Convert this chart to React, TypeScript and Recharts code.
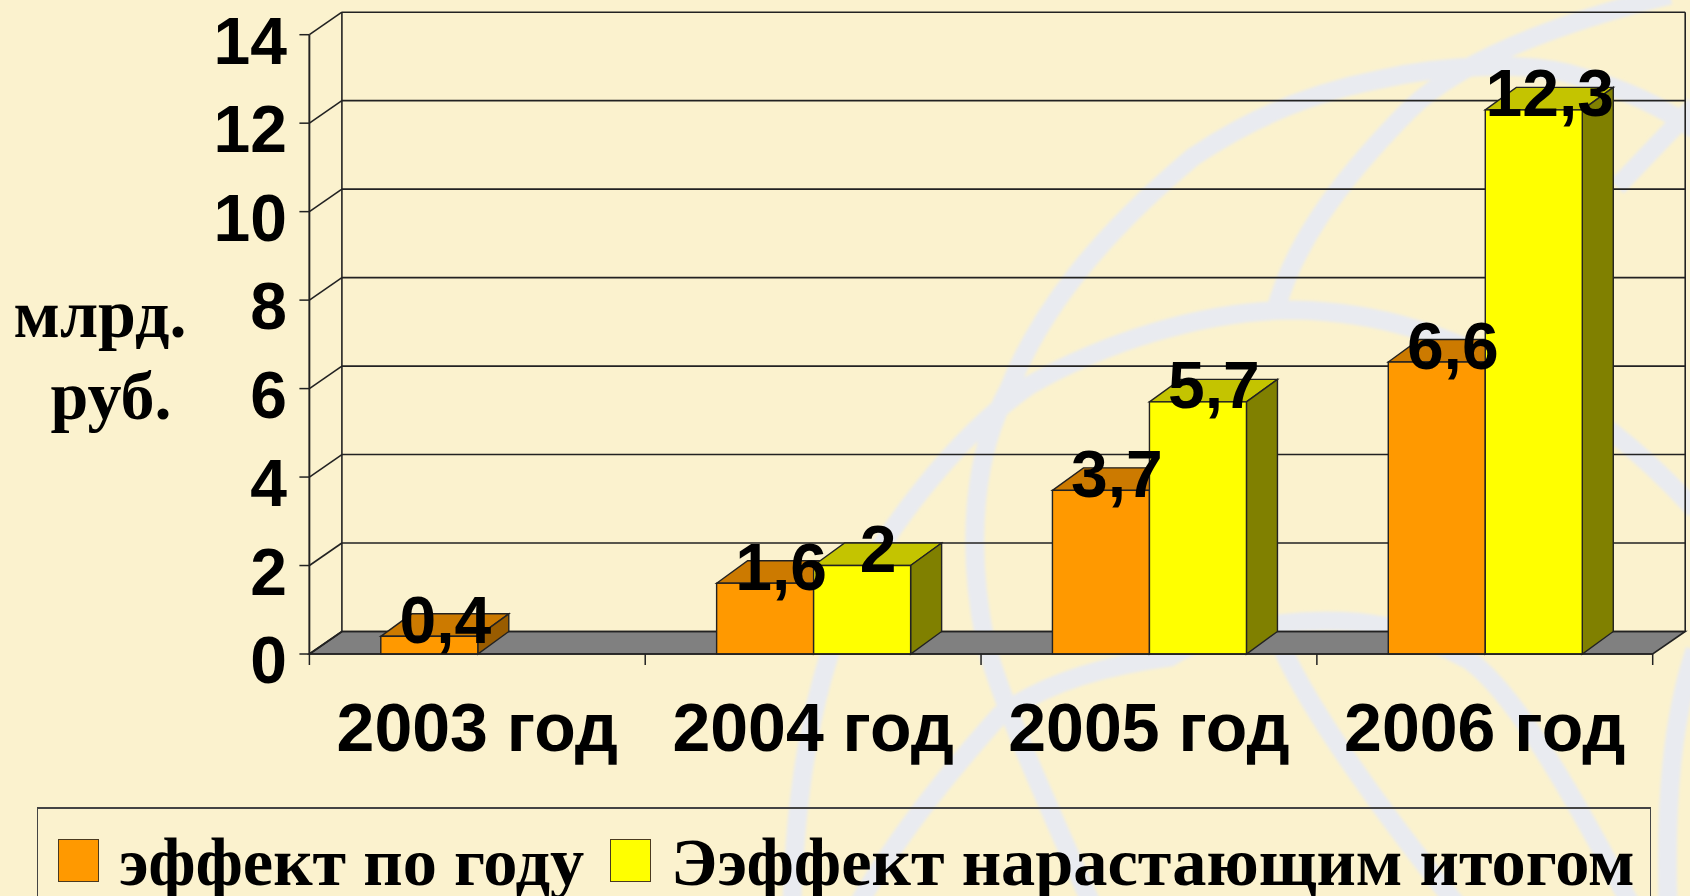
import React from "react";
import { BarChart, Bar, XAxis, YAxis, CartesianGrid, LabelList, Legend } from "recharts";

const categories = ["2003 год", "2004 год", "2005 год", "2006 год"];
const yearlyEffect = [0.4, 1.6, 3.7, 6.6];
const cumulativeEffect = [null, 2, 5.7, 12.3];
const yTicks = [0, 2, 4, 6, 8, 10, 12, 14];
const seriesNames = ["эффект по году", "Ээффект нарастающим итогом"];

const W = 1690;
const H = 896;
const DEPTH_X = 32.5;
const DEPTH_Y = 22.5;
const BAR_DEPTH_X = 31;
const PLOT_LEFT = 309.4;
const PLOT_W = 1343.3;
const SANS = "'Liberation Sans', Arial, sans-serif";
const SERIF = "'Liberation Serif', 'Times New Roman', serif";
const LINE = "#222";

const chartData = categories.map((name, i) => ({
  name,
  yearly: yearlyEffect[i],
  cumulative: cumulativeEffect[i],
}));

const orange = { front: "#FF9900", top: "#CC7A00", side: "#995C00" };
const yellow = { front: "#FFFF00", top: "#C4C400", side: "#808000" };

// faint globe lines of the slide background
const backdropPaths = [
  "M 1092 905 C 1050 810 1000 700 985 640 C 965 540 975 450 1009 389 C 1040 310 1100 235 1193 157 C 1240 125 1300 95 1377 80 C 1440 65 1530 60 1581 77 C 1620 88 1660 105 1695 130",
  "M 1274 317 C 1290 250 1335 185 1409 110 C 1450 70 1530 30 1670 -5",
  "M 792 905 C 795 800 810 690 850 600 C 880 540 950 440 1030 385 C 1100 345 1200 310 1295 310 C 1380 312 1450 335 1520 375 C 1590 410 1640 450 1695 510",
  "M 858 905 C 900 830 960 760 1000 715 C 1050 680 1110 665 1170 657 C 1220 625 1330 610 1400 630 C 1430 640 1450 650 1469 660 C 1510 690 1560 770 1631 905",
  "M 1283 650 C 1310 710 1380 810 1457 905",
  "M 1617 187 L 1695 105",
  "M 1695 650 C 1672 720 1665 800 1668 905",
];

function Bar3D(props: any, c: typeof orange) {
  const { x, y, width, height } = props;
  if (!height || height <= 0) return <g />;
  const r = x + width;
  const b = y + height;
  return (
    <g stroke={LINE} strokeWidth={1.4}>
      <polygon fill={c.top} points={`${x},${y} ${x + BAR_DEPTH_X},${y - DEPTH_Y} ${r + BAR_DEPTH_X},${y - DEPTH_Y} ${r},${y}`} />
      <polygon fill={c.side} points={`${r},${y} ${r + BAR_DEPTH_X},${y - DEPTH_Y} ${r + BAR_DEPTH_X},${b - DEPTH_Y} ${r},${b}`} />
      <rect x={x} y={y} width={width} height={height} fill={c.front} />
    </g>
  );
}

function ValueLabel(props: any) {
  const { x, y, width, value } = props;
  if (value == null) return null;
  return (
    <text
      x={x + width / 2 + 16}
      y={y + 6.5}
      textAnchor="middle"
      fontFamily={SANS}
      fontWeight="bold"
      fontSize={66}
      fill="#000"
    >
      {String(value).replace(".", ",")}
    </text>
  );
}

function WallLine(props: any) {
  const { x1, x2, y1 } = props;
  const isFloor = Math.abs(y1 - 654) < 1;
  const backY = y1 - DEPTH_Y;
  return (
    <g stroke={LINE} strokeWidth={1.6} fill="none">
      {isFloor && (
        <polygon
          fill="#808080"
          points={`${x1},${y1} ${x1 + DEPTH_X},${backY} ${x2 + DEPTH_X},${backY} ${x2},${y1}`}
        />
      )}
      {isFloor && <line x1={x1} y1={34.7} x2={x1} y2={y1} />}
      {isFloor && <line x1={x1 + DEPTH_X} y1={34.7 - DEPTH_Y} x2={x1 + DEPTH_X} y2={backY} />}
      {isFloor && <line x1={x2 + DEPTH_X} y1={34.7 - DEPTH_Y} x2={x2 + DEPTH_X} y2={backY} />}
      <line x1={x1} y1={y1} x2={x1 + DEPTH_X} y2={backY} />
      <line x1={x1 + DEPTH_X} y1={backY} x2={x2 + DEPTH_X} y2={backY} />
    </g>
  );
}

function YTick(props: any) {
  const { y, payload } = props;
  return (
    <g>
      <line x1={PLOT_LEFT - 10} y1={y} x2={PLOT_LEFT} y2={y} stroke={LINE} strokeWidth={1.5} />
      <text x={287} y={y + 29} textAnchor="end" fontFamily={SANS} fontWeight="bold" fontSize={66} fill="#000">
        {payload.value}
      </text>
    </g>
  );
}

function XTick(props: any) {
  const { x, payload, index } = props;
  const band = PLOT_W / categories.length;
  const axisY = 654;
  return (
    <g>
      <line x1={x - band / 2} y1={axisY} x2={x - band / 2} y2={axisY + 11} stroke={LINE} strokeWidth={1.5} />
      {index === categories.length - 1 && (
        <line x1={x + band / 2} y1={axisY} x2={x + band / 2} y2={axisY + 11} stroke={LINE} strokeWidth={1.5} />
      )}
      <text x={x} y={axisY + 96.5} textAnchor="middle" fontFamily={SANS} fontWeight="bold" fontSize={68} fill="#000">
        {payload.value}
      </text>
    </g>
  );
}

function LegendBox() {
  const swatch = (fill: string, left: number) => (
    <span
      style={{
        width: 41,
        height: 43,
        background: fill,
        border: "1.5px solid #4a3a20",
        boxSizing: "border-box",
        position: "absolute",
        left,
        top: 30,
      }}
    />
  );
  const label = (text: string, left: number) => (
    <span style={{ position: "absolute", left, top: 19, lineHeight: "68px" }}>{text}</span>
  );
  return (
    <div
      style={{
        position: "relative",
        boxSizing: "border-box",
        width: 1614,
        height: 89.3,
        borderTop: "2px solid #444",
        borderLeft: "1.5px solid #444",
        borderRight: "1.5px solid #444",
        fontFamily: SERIF,
        fontWeight: "bold",
        fontSize: 68.4,
        color: "#000",
        whiteSpace: "nowrap",
      }}
    >
      {swatch(orange.front, 20)}
      {label(seriesNames[0], 81)}
      {swatch(yellow.front, 572)}
      {label(seriesNames[1], 633)}
    </div>
  );
}

export default function App() {
  return (
    <div style={{ position: "absolute", left: 0, top: 0, width: W, height: H, overflow: "hidden", background: "#FBF2CE" }}>
      <svg width={W} height={H} style={{ position: "absolute", left: 0, top: 0 }}>
        <defs>
          <filter id="soft">
            <feGaussianBlur stdDeviation={1.5} />
          </filter>
        </defs>
        <g filter="url(#soft)">
          {backdropPaths.map((d) => (
            <path key={d} d={d} fill="none" stroke="#E9EBF0" strokeWidth={19} />
          ))}
        </g>
      </svg>
      <BarChart
        width={W}
        height={H}
        data={chartData}
        barCategoryGap={71.4}
        barGap={0}
        margin={{ top: 34.7, right: 37.3, bottom: 52.7, left: 9.4 }}
        style={{ position: "absolute", left: 0, top: 0 }}
      >
        <CartesianGrid vertical={false} horizontal={(p: any) => <WallLine key={p.key} {...p} />} />
        <XAxis dataKey="name" height={100} interval={0} axisLine={{ stroke: LINE, strokeWidth: 1.5 }} tickLine={false} tick={<XTick />} />
        <YAxis
          width={300}
          domain={[0, 14]}
          ticks={yTicks}
          interval={0}
          axisLine={{ stroke: LINE, strokeWidth: 1.5 }}
          tickLine={false}
          tick={<YTick />}
        />
        <Legend
          content={<LegendBox />}
          wrapperStyle={{ left: 37, top: 806.7, bottom: "auto", width: 1614 }}
        />
        <Bar dataKey="yearly" isAnimationActive={false} shape={(p: any) => Bar3D(p, orange)}>
          <LabelList dataKey="yearly" content={<ValueLabel />} />
        </Bar>
        <Bar dataKey="cumulative" isAnimationActive={false} shape={(p: any) => Bar3D(p, yellow)}>
          <LabelList dataKey="cumulative" content={<ValueLabel />} />
        </Bar>
        <text x={100} y={337} textAnchor="middle" fontFamily={SERIF} fontWeight="bold" fontSize={68} fill="#000">
          млрд.
        </text>
        <text x={111} y={419} textAnchor="middle" fontFamily={SERIF} fontWeight="bold" fontSize={68} fill="#000">
          руб.
        </text>
      </BarChart>
    </div>
  );
}
